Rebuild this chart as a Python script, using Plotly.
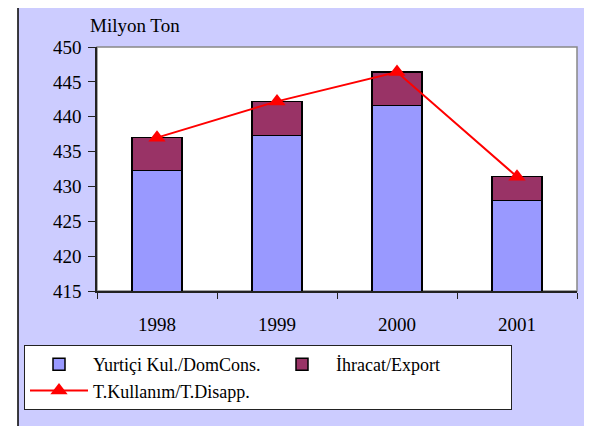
import plotly.graph_objects as go

years = ["1998", "1999", "2000", "2001"]
domestic = [432.3, 437.3, 441.6, 428.0]
export = [4.7, 4.9, 4.8, 3.4]
total = [437.0, 442.2, 446.4, 431.4]
y_ticks = [415, 420, 425, 430, 435, 440, 445, 450]

FONT = "Liberation Serif, Times New Roman, serif"
OFF = 8  # default page body margin

fig = go.Figure()
fig.add_trace(go.Bar(
    x=years, y=domestic, name="Yurtiçi Kul./DomCons.",
    marker=dict(color="#9999FF", line=dict(color="black", width=1.5)),
))
fig.add_trace(go.Bar(
    x=years, y=export, name="İhracat/Export",
    marker=dict(color="#993366", line=dict(color="black", width=1.5)),
))
fig.add_trace(go.Scatter(
    x=years, y=total, name="T.Kullanım/T.Disapp.", mode="lines+markers",
    line=dict(color="#FF0000", width=2),
    marker=dict(symbol="triangle-up", size=15, color="#FF0000"),
))

W, H = 592, 426
# plot area in screen pixels
SX0, SX1, SY0, SY1 = 97, 577, 47, 291
L = SX0 - OFF
R = W - (SX1 - OFF)
T = SY0 - OFF
B = H - (SY1 - OFF)
pw = W - L - R
ph = H - T - B

def px2x(s):
    return (s - OFF - L) / pw

def px2y(s):
    return (H - B - (s - OFF)) / ph

shapes = [
    dict(type="rect", xref="paper", yref="paper", layer="below",
         x0=px2x(18), x1=px2x(620), y0=px2y(460), y1=px2y(7),
         fillcolor="#CCCCFF", line=dict(color="black", width=1.5)),
    dict(type="rect", xref="paper", yref="paper", layer="below",
         x0=0, x1=1, y0=0, y1=1,
         fillcolor="white", line=dict(color="#888888", width=1.5)),
]

fig.update_layout(
    width=W, height=H,
    margin=dict(l=L, r=R, t=T, b=B, autoexpand=False),
    barmode="stack", bargap=0.58,
    paper_bgcolor="white", plot_bgcolor="white",
    font=dict(family=FONT, size=19, color="black"),
    shapes=shapes,
    showlegend=True,
    legend=dict(
        orientation="h", x=px2x(24), xanchor="left", y=px2y(345), yanchor="top",
        bgcolor="white", bordercolor="#222222", borderwidth=1,
        font=dict(family=FONT, size=18, color="black"),
        traceorder="normal", itemwidth=58, entrywidth=170,
    ),
    annotations=[dict(
        text="Milyon Ton", xref="paper", yref="paper",
        x=px2x(88), y=px2y(25), xanchor="left", yanchor="middle",
        showarrow=False, font=dict(family=FONT, size=19, color="black"),
    )],
    xaxis=dict(
        type="category", range=[-0.5, 3.5], showline=True, linecolor="#222222", linewidth=1.5,
        ticks="outside", tickson="boundaries", ticklen=6, tickcolor="#222222",
        showgrid=False, ticklabelstandoff=15, tickfont=dict(size=19),
    ),
    yaxis=dict(
        range=[415, 450], tickvals=y_ticks, showline=True, linecolor="#222222", linewidth=1.5,
        ticks="outside", ticklen=7, tickcolor="#222222", showgrid=False, zeroline=False,
        ticklabelstandoff=3, tickfont=dict(size=19),
    ),
)

fig.write_html("out.html")
